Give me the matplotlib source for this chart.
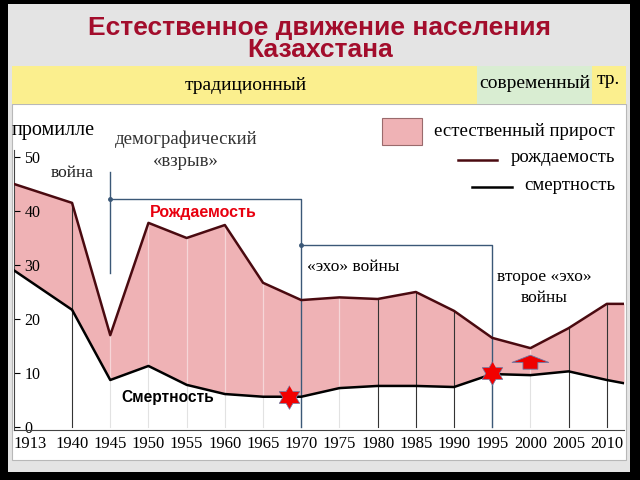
import numpy as np
import matplotlib.pyplot as plt
from matplotlib.patches import Rectangle, FancyArrow
from matplotlib.lines import Line2D

# данные: промилле по годам
years = ['1913', '1940', '1945', '1950', '1955', '1960', '1965', '1970',
         '1975', '1980', '1985', '1990', '1995', '2000', '2005', '2010']
birth = [45.0, 41.5, 17.0, 37.8, 35.0, 37.4, 26.7, 23.5,
         24.0, 23.7, 25.0, 21.5, 16.5, 14.6, 18.3, 22.8]
death = [29.0, 21.7, 8.7, 11.3, 7.8, 6.1, 5.6, 5.6,
         7.2, 7.6, 7.6, 7.4, 9.8, 9.6, 10.3, 8.7]
# значения у правого края графика
birth_end = 22.8
death_end = 8.1

W, H = 640, 480
serif = 'Liberation Serif'
sans = 'Liberation Sans'


def fx(x):
    return x / W


def fy(y):
    return 1 - y / H


fig = plt.figure(figsize=(6.4, 4.8), dpi=100, facecolor='black')

# фон слайда
fig.patches.append(Rectangle((fx(8), fy(472)), fx(622), 468 / H,
                             transform=fig.transFigure, facecolor='#e4e4e4',
                             edgecolor='none', zorder=0))
fig.patches.append(Rectangle((fx(12), fy(460)), fx(614), 356 / H,
                             transform=fig.transFigure, facecolor='white',
                             edgecolor='#b8b8b8', lw=0.8, zorder=0))

fig.text(0.5, fy(39), 'Естественное движение населения\nКазахстана',
         ha='center', va='center', linespacing=0.92,
         fontsize=19, fontweight='bold', color='#a30d2c', family=sans)

# полоса с типами воспроизводства
bands = [(12, 477, '#fbef8e', 'традиционный', 246, 85),
         (477, 592, '#d9edd2', 'современный', 535, 84),
         (592, 626, '#fbef8e', 'тр.', 608, 80)]
for x0, x1, col, txt, tx, ty in bands:
    fig.patches.append(Rectangle((fx(x0), fy(104)), fx(x1 - x0), 38 / H,
                                 transform=fig.transFigure, facecolor=col,
                                 edgecolor='none', zorder=1))
    fig.text(fx(tx), fy(ty), txt, ha='center', va='center', fontsize=14,
             family=serif, color='black')

ax = fig.add_axes([fx(14), fy(430), fx(610), 320 / H])
ax.set_zorder(5)
ax.patch.set_alpha(0)

n = len(years)
pos = np.arange(n, dtype=float)
x0, x1 = -0.52, 15.45
xd = np.concatenate([[x0], pos[1:], [x1]])
yb = np.array(birth + [birth_end])
yd = np.array(death + [death_end])

ax.fill_between(xd, yd, yb, color='#efb2b5', lw=0, zorder=1)

# вертикальные линии сетки
dark = [1, 9, 10, 11, 14, 15]
for i in range(1, n):
    if i in dark:
        ax.plot([pos[i], pos[i]], [0, birth[i]], color='#333333', lw=0.8, zorder=2)
    else:
        ax.plot([pos[i], pos[i]], [0, death[i]], color='#e2e2e2', lw=0.8, zorder=2)
        ax.plot([pos[i], pos[i]], [death[i], birth[i]], color='#f6d6d8', lw=0.9, zorder=2)

ax.plot(xd, yb, color='#4a0a10', lw=1.8, zorder=4)
ax.plot(xd, yd, color='black', lw=1.8, zorder=4)

# скобки периодов
bc = '#3b5877'
ax.plot([2, 2], [28.5, 47.2], color=bc, lw=1, zorder=3)
ax.plot([2, 7, 7], [42.2, 42.2, 0], color=bc, lw=1, zorder=3)
ax.plot([7, 12, 12], [33.7, 33.7, 0], color=bc, lw=1, zorder=3)
ax.plot([2, 7], [42.2, 33.7], 'o', color=bc, ms=2.5, zorder=3)

# шестиконечные звёзды и стрелка
ang = np.deg2rad(90 + 30 * np.arange(12))
rad = np.where(np.arange(12) % 2 == 0, 1.0, 1 / np.sqrt(3))
hexagram = list(zip(rad * np.cos(ang), rad * np.sin(ang)))
star_x = [6.68, 12.0]
star_y = [5.6, 10.0]
ax.plot(star_x, star_y, marker=hexagram, ls='none', ms=17,
        color='#f20000', mec='#6a7aa6', mew=0.5, zorder=5)
ax.add_patch(FancyArrow(13.0, 10.7, 0, 2.6, width=0.39, head_width=0.97,
                        head_length=1.35, length_includes_head=True,
                        facecolor='#ee0000', edgecolor='#6a7aa6', lw=0.6, zorder=5))

ax.text(4.43, 39.8, 'Рождаемость', ha='center', va='center', fontsize=11.5,
        fontweight='bold', color='#e8000f', family=sans, zorder=6)
ax.text(3.5, 5.5, 'Смертность', ha='center', va='center', fontsize=11.2,
        fontweight='bold', color='black', family=sans, zorder=6)
ax.text(7.15, 29.6, '«эхо» войны', ha='left', va='center', fontsize=12.5,
        family=serif, zorder=6)
ax.text(13.37, 27.7, 'второе «эхо»', ha='center', va='center', fontsize=12.5,
        family=serif, zorder=6)
ax.text(13.37, 23.8, 'войны', ha='center', va='center', fontsize=12.5,
        family=serif, zorder=6)
ax.text(1.0, 47.0, 'война', ha='center', va='center', fontsize=12.5,
        family=serif, color='#222222', zorder=6)
ax.text(4.0, 53.2, 'демографический', ha='center', va='center', fontsize=13.5,
        family=serif, color='#333333', zorder=6)
ax.text(3.98, 49.2, '«взрыв»', ha='center', va='center', fontsize=13.5,
        family=serif, color='#333333', zorder=6)

ax.set_xlim(x0, x1)
ax.set_ylim(-0.56, 58.7)
ax.set_xticks(np.concatenate([[-0.1], pos[1:]]))
ax.set_xticklabels(years, fontsize=12, family=serif)
ax.set_yticks([0, 10, 20, 30, 40, 50])
ax.set_yticklabels(['0', '10', '20', '30', '40', '50'], fontsize=11.5, family=serif)
for lab in ax.get_yticklabels():
    lab.set_horizontalalignment('left')
ax.tick_params(axis='x', length=0, pad=4)
ax.tick_params(axis='y', direction='in', length=4, pad=-7.5, width=0.8)
for s in ['top', 'right']:
    ax.spines[s].set_visible(False)
ax.spines['left'].set_bounds(-0.56, 51.3)
ax.spines['left'].set_color('#444444')
ax.spines['bottom'].set_color('#444444')

fig.text(fx(12), fy(131), 'промилле', ha='left', va='center', fontsize=14.5,
         family=serif)

# легенда
fig.patches.append(Rectangle((fx(382), fy(145)), fx(40), 27 / H,
                             transform=fig.transFigure, facecolor='#efb2b5',
                             edgecolor='#9a6a6c', lw=0.8, zorder=2))
fig.text(fx(615), fy(131), 'естественный прирост', ha='right', va='center',
         fontsize=13.5, family=serif)
fig.lines.append(Line2D([fx(458), fx(497)], [fy(160), fy(160)],
                        transform=fig.transFigure, color='#4a0a10', lw=1.8))
fig.text(fx(615), fy(158), 'рождаемость', ha='right', va='center',
         fontsize=13.5, family=serif)
fig.lines.append(Line2D([fx(472), fx(512)], [fy(187), fy(187)],
                        transform=fig.transFigure, color='black', lw=1.8))
fig.text(fx(615), fy(186), 'смертность', ha='right', va='center',
         fontsize=13.5, family=serif)

fig.savefig('out.png', dpi=100, facecolor=fig.get_facecolor())
